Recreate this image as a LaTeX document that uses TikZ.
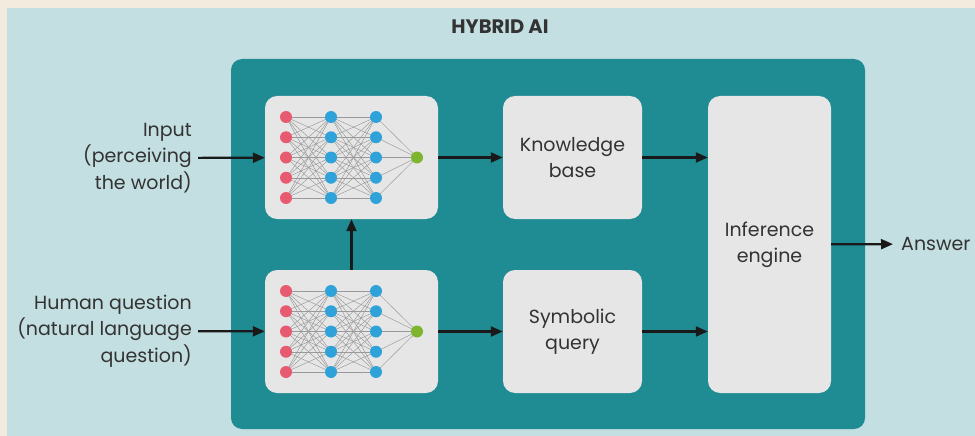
\documentclass[tikz,border=0pt]{standalone}
\usepackage{fontspec}
\setmainfont{Poppins}
\usetikzlibrary{positioning, arrows.meta}

\definecolor{paper}{HTML}{F3ECDE}
\definecolor{sky}{HTML}{C4DFE1}
\definecolor{teal}{HTML}{1F8B93}
\definecolor{boxgray}{HTML}{E6E6E6}
\definecolor{netred}{HTML}{E85A70}
\definecolor{netblue}{HTML}{2FA3D9}
\definecolor{netgreen}{HTML}{7DB52F}
\definecolor{ink}{HTML}{333333}

% small neural net drawn inside a box node
\newcommand{\drawnet}[1]{%
  \begin{scope}[shift={(#1.center)}]
    \foreach \i in {1,...,5} {
      \coordinate (#1-in\i) at (-65.5,{(\i-3)*20.25});
      \coordinate (#1-ha\i) at (-20.5,{(\i-3)*20.25});
      \coordinate (#1-hb\i) at (24.5,{(\i-3)*20.25});
    }
    \coordinate (#1-out) at (65.5,0);
    \foreach \i in {1,...,5} {
      \foreach \j in {1,...,5} {
        \draw[synapse] (#1-in\i) -- (#1-ha\j);
        \draw[synapse] (#1-ha\i) -- (#1-hb\j);
      }
      \draw[synapse] (#1-hb\i) -- (#1-out);
    }
    \foreach \i in {1,...,5} {
      \node[neuron, fill=netred] at (#1-in\i) {};
      \node[neuron, fill=netblue] at (#1-ha\i) {};
      \node[neuron, fill=netblue] at (#1-hb\i) {};
    }
    \node[neuron, fill=netgreen] at (#1-out) {};
  \end{scope}
}

\begin{document}
\begin{tikzpicture}[
    x=1pt, y=-1pt,
    box/.style={rectangle, rounded corners=12pt, fill=boxgray, align=center, text=ink,
                font=\fontsize{19}{26}\selectfont},
    label/.style={align=right, text=ink, inner sep=6pt, font=\fontsize{19}{26.5}\selectfont},
    neuron/.style={circle, minimum size=12pt, inner sep=0pt},
    synapse/.style={draw=black!40, line width=0.45pt},
    flow/.style={-{Triangle[length=12pt, width=10pt]}, line width=2.2pt, black!90}
]
    \useasboundingbox (0,0) rectangle (975,436);
    % Background
    \fill[paper] (0,0) rectangle (975,436);
    \fill[sky] (7,8) rectangle (975,436);
    \node[text=ink, font=\bfseries\fontsize{19.5}{22}\selectfont] (title) at (500,27) {HYBRID AI};
    \fill[teal, rounded corners=11pt] (231,59) rectangle (865,429);

    % Boxes
    \node[box, minimum width=173pt, minimum height=123pt] (nnTop) at (351.5,157.5) {};
    \node[box, minimum width=173pt, minimum height=123pt] (nnBot) at (351.5,331.5) {};
    \node[box, minimum width=139pt, minimum height=123pt] (kb) at (572.5,157.5) {Knowledge\\base};
    \node[box, minimum width=139pt, minimum height=123pt] (query) at (572.5,331.5) {Symbolic\\query};
    \node[box, minimum width=123pt, minimum height=297pt] (engine) at (769.5,244.5) {Inference\\engine};

    \drawnet{nnTop}
    \drawnet{nnBot}

    % Outside labels
    \node[label, anchor=east] (input) at (198,158) {Input\\(perceiving\\the world)};
    \node[label, anchor=east] (question) at (198,331) {Human question\\(natural language\\question)};
    \node[label, anchor=west, align=left, inner sep=8pt] (answer) at (893,244) {Answer};

    % Arrows
    \draw[flow] (input) -- (nnTop);
    \draw[flow] (question) -- (nnBot);
    \draw[flow] (nnBot) -- (nnTop);
    \draw[flow] (nnTop) -- (kb);
    \draw[flow] (nnBot) -- (query);
    \draw[flow] (kb.east) -- (kb.east -| engine.west);
    \draw[flow] (query.east) -- (query.east -| engine.west);
    \draw[flow] (engine) -- (answer);
\end{tikzpicture}
\end{document}
